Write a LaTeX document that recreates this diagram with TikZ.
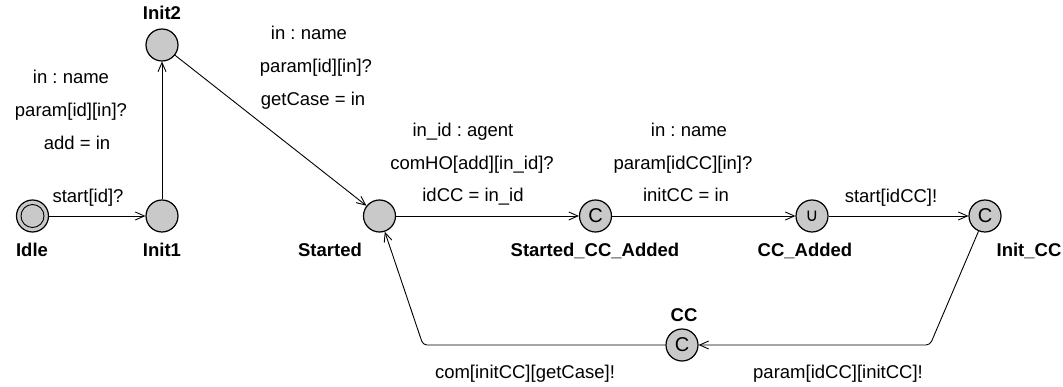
\documentclass[tikz,border=0pt]{standalone}
\usepackage{fontspec}
\setmainfont{Liberation Sans}
\newfontfamily\symfont{DejaVu Sans}
\usetikzlibrary{arrows.meta}
\frenchspacing
\begin{document}
\begin{tikzpicture}[x=1pt,y=-1pt,
  loc/.style={circle,draw,line width=1.2pt,fill=black!21,minimum size=32pt,inner sep=0pt},
  nm/.style={font=\fontsize{18.5}{20}\selectfont\bfseries,anchor=base},
  lb/.style={font=\fontsize{18.5}{20}\selectfont,anchor=base},
  sym/.style={font=\fontsize{20}{20}\selectfont},
  edge/.style={line width=0.9pt,-{Straight Barb[length=9pt,width=8pt]}},
  every node/.style={inner sep=0pt}]
\useasboundingbox (0,0) rectangle (1063,387);
% locations
\node[loc] (idle) at (32.5,216) {};
\node[circle,draw,line width=0.9pt,minimum size=23pt] (idlein) at (idle) {};
\node[loc] (init1) at (162,216) {};
\node[loc] (init2) at (162,45) {};
\node[loc] (started) at (379.5,216) {};
\node[loc,sym] (sca) at (595.5,216) {C};
\node[loc,sym] (cca) at (812,216) {\symfont\fontsize{18}{18}\selectfont ∪};
\node[loc,sym] (initcc) at (985,216) {C};
\node[loc,sym] (cc) at (682,345) {C};
% names
\node[nm] (nidle) at (32,257) {Idle};
\node[nm] (ninit1) at (162,257) {Init1};
\node[nm] (ninit2) at (162,20) {Init2};
\node[nm] (nstarted) at (330,257) {Started};
\node[nm] (nsca) at (595,257) {Started\_CC\_Added};
\node[nm] (ncca) at (805,257) {CC\_Added};
\node[nm] (ninitcc) at (1029,257) {Init\_CC};
\node[nm] (ncc) at (684,322) {CC};
% corners
\coordinate (cr) at (930,345);
\coordinate (cl) at (423,345);
% edges
\draw[edge] (idle) -- (init1);
\draw[edge] (init1) -- (init2);
\draw[edge] (init2) -- (started);
\draw[edge] (started) -- (sca);
\draw[edge] (sca) -- (cca);
\draw[edge] (cca) -- (initcc);
\draw[edge,rounded corners=4pt] (initcc) -- (cr) -- (cc);
\draw[edge,rounded corners=4pt] (cc) -- (cl) -- (started);
% edge labels
\node[lb] (l1) at (88,203) {start[id]?};
\node[lb] (l2a) at (71,84) {in : name};
\node[lb] (l2b) at (71,117) {param[id][in]?};
\node[lb] (l2c) at (77,150) {add = in};
\node[lb] (l3a) at (309,40) {in : name};
\node[lb] (l3b) at (316,73) {param[id][in]?};
\node[lb] (l3c) at (313,106) {getCase = in};
\node[lb] (l4a) at (463,137) {in\_id : agent};
\node[lb] (l4b) at (472,170) {comHO[add][in\_id]?};
\node[lb] (l4c) at (473,202) {idCC = in\_id};
\node[lb] (l5a) at (689,137) {in : name};
\node[lb] (l5b) at (683,170) {param[idCC][in]?};
\node[lb] (l5c) at (686,202) {initCC = in};
\node[lb] (l6) at (891,203) {start[idCC]!};
\node[lb] (l7) at (838,378) {param[idCC][initCC]!};
\node[lb] (l8) at (525,378) {com[initCC][getCase]!};
\end{tikzpicture}
\end{document}
